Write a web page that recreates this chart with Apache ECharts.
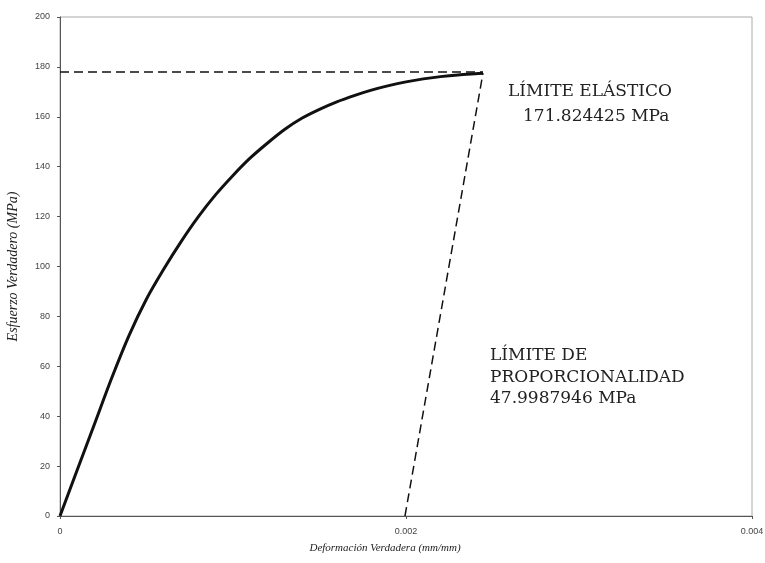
<!DOCTYPE html>
<html>
<head>
<meta charset="utf-8">
<script src="https://cdn.jsdelivr.net/npm/echarts@6/dist/echarts.min.js"></script>
<style>
html,body{margin:0;padding:0;background:#fff;}
#chart{width:765px;height:563px;}
</style>
</head>
<body>
<div id="chart"></div>
<script>
// True strain (mm/mm) and true stress (MPa)
var strain = [0, 0.0001, 0.0002, 0.0003, 0.0004, 0.0005, 0.0006, 0.0007, 0.0008, 0.0009, 0.001, 0.0011, 0.0012, 0.0013, 0.0014, 0.0015, 0.0016, 0.0017, 0.0018, 0.0019, 0.002, 0.0021, 0.0022, 0.0023, 0.0024, 0.002445];
var stress = [0, 18.5, 37, 55.5, 72.5, 87, 99, 110, 120, 128.8, 136.5, 143.5, 149.5, 155, 159.5, 163, 166, 168.5, 170.7, 172.5, 174, 175.2, 176.1, 176.8, 177.3, 177.5];
// Horizontal dashed line at the yield stress
var yieldLineX = [0, 0.002445];
var yieldLineY = [178, 178];
// Offset (0.2%) dashed line
var offsetLineX = [0.001994, 0.002445];
var offsetLineY = [0, 177.5];
// Annotation texts
var elasticLabel = ['LÍMITE ELÁSTICO', '171.824425 MPa'];
var propLabel = ['LÍMITE DE', 'PROPORCIONALIDAD', '47.9987946 MPa'];
var xTitle = 'Deformación Verdadera (mm/mm)';
var yTitle = 'Esfuerzo Verdadero (MPa)';

function pairs(xs, ys){ return xs.map(function(x,i){ return [x, ys[i]]; }); }

var chart = echarts.init(document.getElementById('chart'));
chart.setOption({
  backgroundColor: '#fff',
  animation: false,
  grid: { left: 60, right: 13, top: 17, bottom: 47, outerBoundsMode: 'none', containLabel: false,
          show: true, borderColor: '#aaa', borderWidth: 1 },
  xAxis: {
    type: 'value', min: 0, max: 0.004, interval: 0.002,
    name: xTitle, nameLocation: 'middle', nameGap: 27,
    nameTextStyle: { fontFamily: 'Liberation Serif', fontStyle: 'italic', fontSize: 11, color: '#222', padding: [0, 42, 0, 0] },
    axisLine: { lineStyle: { color: '#555', width: 1 } },
    axisTick: { show: true, length: 3, lineStyle: { color: '#555' } },
    splitLine: { show: false },
    axisLabel: { fontFamily: 'Liberation Sans', fontSize: 9, color: '#444', margin: 11,
      formatter: function(v){ return v === 0 ? '0' : v.toFixed(3); } }
  },
  yAxis: {
    type: 'value', min: 0, max: 200, interval: 20,
    name: yTitle, nameLocation: 'middle', nameGap: 40,
    nameTextStyle: { fontFamily: 'Liberation Serif', fontStyle: 'italic', fontSize: 14, color: '#222' },
    axisLine: { lineStyle: { color: '#555', width: 1 } },
    axisTick: { show: true, length: 3, lineStyle: { color: '#555' } },
    splitLine: { show: false },
    axisLabel: { fontFamily: 'Liberation Sans', fontSize: 9, color: '#444', margin: 10 }
  },
  series: [
    { type: 'line', data: pairs(strain, stress), showSymbol: false, smooth: 0.3,
      lineStyle: { color: '#111', width: 3 }, z: 3 },
    { type: 'line', data: pairs(yieldLineX, yieldLineY), showSymbol: false,
      lineStyle: { color: '#111', width: 1.5, type: [9, 5] }, z: 2 },
    { type: 'line', data: pairs(offsetLineX, offsetLineY), showSymbol: false,
      lineStyle: { color: '#111', width: 1.5, type: [9, 5] }, z: 2 }
  ],
  graphic: [
    { type: 'text', left: 508, top: 83, style: { text: elasticLabel[0], font: '17px "DejaVu Serif"', fill: '#222' } },
    { type: 'text', left: 523, top: 108, style: { text: elasticLabel[1], font: '17px "DejaVu Serif"', fill: '#222' } },
    { type: 'text', left: 490, top: 345, style: { text: propLabel.join('\n'), font: '17px "DejaVu Serif"', fill: '#222', lineHeight: 21.5 } }
  ]
});
</script>
</body>
</html>
